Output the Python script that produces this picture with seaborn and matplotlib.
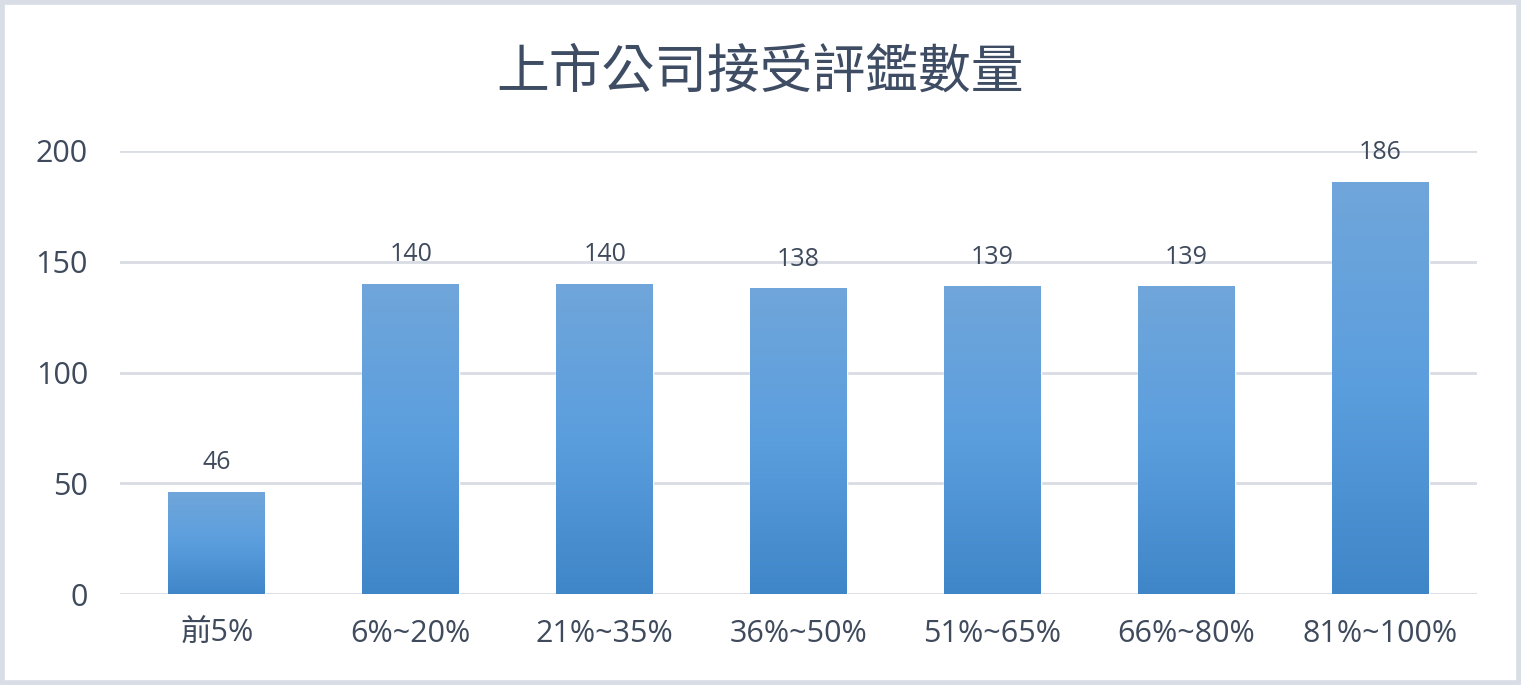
import numpy as np
import pandas as pd
import seaborn as sns
import matplotlib
matplotlib.use("Agg")
import matplotlib.pyplot as plt
from matplotlib.patches import Rectangle
from matplotlib.colors import LinearSegmentedColormap

categories = ["前5%", "6%~20%", "21%~35%", "36%~50%", "51%~65%", "66%~80%", "81%~100%"]
values = [46, 140, 140, 138, 139, 139, 186]
yticks = [0, 50, 100, 150, 200]
title = "上市公司接受評鑑數量"

sns.set_theme(style="white")
fams = ["Open Sans", "Noto Sans CJK TC", "DejaVu Sans"]
plt.rcParams["font.family"] = fams

fig = plt.figure(figsize=(15.21, 6.85), dpi=100)
ax = fig.add_axes([120/1521, 91/685, (1477-120)/1521, (594-151)/685])

df = pd.DataFrame({"cat": categories, "val": values})
sns.barplot(data=df, x="cat", y="val", ax=ax, color="#4A8FD3", width=0.5,
            saturation=1, zorder=3)

# gradient overlay
grad = np.linspace(0, 1, 256).reshape(-1, 1)
cmap = LinearSegmentedColormap.from_list("g", ["#3F86C8", "#5B9EDE", "#70A6DA"])
txtc = "#3F4A5C"
for p in ax.patches:
    x0, y0 = p.get_x(), p.get_y()
    w, h = p.get_width(), p.get_height()
    im = ax.imshow(grad, extent=[x0, x0 + w, y0, y0 + h], aspect="auto",
                   cmap=cmap, origin="lower", zorder=4)
    im.set_clip_path(p)
    ax.text(x0 + w/2, h + 7.5, f"{int(h)}", ha="center", va="bottom",
            fontsize=18, color=txtc, zorder=5)

ax.set_xlim(-0.5, 6.5)
ax.set_ylim(0, 200)
ax.set_yticks(yticks)
ax.yaxis.grid(True, color="#D9DCE3", linewidth=2, zorder=0)
ax.set_axisbelow(True)
for s in ax.spines.values():
    s.set_visible(False)
ax.set_xlabel("")
ax.set_ylabel("")
ax.tick_params(axis="y", length=0, pad=23, labelsize=22, labelcolor=txtc)
ax.tick_params(axis="x", length=0, pad=18, labelsize=22, labelcolor=txtc)

fig.text(760/1521, 1 - 74/685, title, ha="center", va="center",
         fontsize=38, color="#3E4D63", fontweight="medium", family=fams)

fig.patches.append(Rectangle((0, 0), 1, 1, transform=fig.transFigure,
                             fill=False, edgecolor="#D9DEE6", linewidth=7,
                             zorder=10))

fig.savefig("out.png", dpi=100)
